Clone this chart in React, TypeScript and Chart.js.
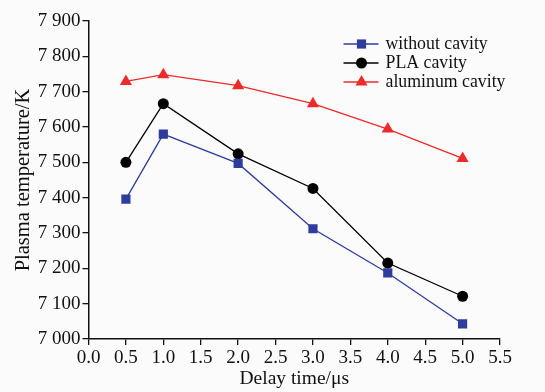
import React, { useEffect, useRef } from "react";
import { Chart, registerables } from "chart.js";

Chart.register(...registerables);

const delayTimes = [0.5, 1, 2, 3, 4, 5];
const withoutCavity = [7396, 7580, 7497, 7312, 7187, 7043];
const plaCavity = [7500, 7666, 7524, 7426, 7215, 7121];
const aluminumCavity = [7729, 7748, 7717, 7666, 7594, 7511];
const seriesLabels = ["without cavity", "PLA cavity", "aluminum cavity"];
const xTitle = "Delay time/\u03bcs";
const yTitle = "Plasma temperature/K";

const FONT = "'Liberation Serif', 'Times New Roman', serif";

function drawMarker(ctx: CanvasRenderingContext2D, style: string, r: number, x: number, y: number) {
  ctx.beginPath();
  if (style === "rect") {
    const s = Math.SQRT1_2 * r;
    ctx.rect(x - s, y - s, 2 * s, 2 * s);
  } else if (style === "triangle") {
    const rad = Math.PI / 180;
    let a = 0;
    ctx.moveTo(x + Math.sin(a) * r, y - Math.cos(a) * r);
    a += 120 * rad;
    ctx.lineTo(x + Math.sin(a) * r, y - Math.cos(a) * r);
    a += 120 * rad;
    ctx.lineTo(x + Math.sin(a) * r, y - Math.cos(a) * r);
    ctx.closePath();
  } else {
    ctx.arc(x, y, r, 0, Math.PI * 2);
  }
  ctx.fill();
}

const legendPlugin = {
  id: "customLegend",
  afterDraw(chart: any) {
    const ctx = chart.ctx;
    const area = chart.chartArea;
    const x0 = area.left + 255;
    const y0 = area.top + 23;
    const gap = 19;
    ctx.save();
    chart.data.datasets.forEach((ds: any, i: number) => {
      const y = y0 + i * gap;
      ctx.strokeStyle = ds.borderColor;
      ctx.lineWidth = 1.3;
      ctx.beginPath();
      ctx.moveTo(x0, y);
      ctx.lineTo(x0 + 35, y);
      ctx.stroke();
      ctx.fillStyle = ds.backgroundColor;
      drawMarker(ctx, ds.pointStyle, ds.pointRadius, x0 + 18, y);
      ctx.fillStyle = "#111";
      ctx.font = `17.8px ${FONT}`;
      ctx.textBaseline = "middle";
      ctx.textAlign = "left";
      ctx.fillText(ds.label, x0 + 42, y);
    });
    ctx.restore();
  },
};

const bgPlugin = {
  id: "bg",
  beforeDraw(chart: any) {
    const ctx = chart.ctx;
    ctx.save();
    ctx.fillStyle = "#fbfbfb";
    ctx.fillRect(0, 0, chart.width, chart.height);
    ctx.restore();
  },
};

export default function App() {
  const ref = useRef<HTMLCanvasElement>(null);
  useEffect(() => {
    document.body.style.margin = "0";
    const mk = (data: number[]) => data.map((v, i) => ({ x: delayTimes[i], y: v }));
    const chart = new Chart(ref.current!, {
      type: "line",
      data: {
        datasets: [
          {
            label: seriesLabels[0],
            data: mk(withoutCavity),
            borderColor: "#2e3d9c",
            backgroundColor: "#2e3d9c",
            pointStyle: "rect",
            pointRadius: 6.5,
            borderWidth: 1.3,
            pointBorderWidth: 0,
          },
          {
            label: seriesLabels[1],
            data: mk(plaCavity),
            borderColor: "#000000",
            backgroundColor: "#000000",
            pointStyle: "circle",
            pointRadius: 5.5,
            borderWidth: 1.3,
            pointBorderWidth: 0,
          },
          {
            label: seriesLabels[2],
            data: mk(aluminumCavity),
            borderColor: "#ec2a2a",
            backgroundColor: "#ec2a2a",
            pointStyle: "triangle",
            pointRadius: 7,
            borderWidth: 1.3,
            pointBorderWidth: 0,
          },
        ] as any,
      },
      options: {
        animation: false,
        responsive: false,
        layout: { padding: { left: 0, right: 45, top: 21, bottom: 0 } },
        plugins: {
          legend: { display: false },
          tooltip: { enabled: false },
        },
        scales: {
          x: {
            type: "linear",
            min: 0,
            max: 5.5,
            ticks: {
              stepSize: 0.5,
              color: "#111",
              font: { family: FONT, size: 19 },
              padding: 2,
              maxRotation: 0,
              autoSkip: false,
              callback: (v: any) => Number(v).toFixed(1),
            },
            grid: { display: true, drawOnChartArea: false, drawTicks: true, tickLength: 6, color: "#111", lineWidth: 1.3 },
            border: { display: true, color: "#111", width: 1.5 },
            title: { display: true, text: xTitle, color: "#111", font: { family: FONT, size: 19.5 }, padding: { top: 0, bottom: 1 } },
            afterFit: (s: any) => { s.height = 53; },
          },
          y: {
            type: "linear",
            min: 7000,
            max: 7900,
            ticks: {
              stepSize: 100,
              color: "#111",
              font: { family: FONT, size: 19 },
              padding: 2,
              callback: (v: any) => {
                const n = Math.round(Number(v));
                return `${Math.floor(n / 1000)} ${String(n % 1000).padStart(3, "0")}`;
              },
            },
            grid: { display: true, drawOnChartArea: false, drawTicks: true, tickLength: 6, color: "#111", lineWidth: 1.3 },
            border: { display: true, color: "#111", width: 1.5 },
            title: { display: true, text: yTitle, color: "#111", font: { family: FONT, size: 20.5 }, padding: { top: 11, bottom: 0 } },
            afterFit: (s: any) => { s.width = 88.5; },
          },
        },
      },
      plugins: [bgPlugin, legendPlugin],
    });
    return () => chart.destroy();
  }, []);
  return (
    <div style={{ width: 545, height: 392 }}>
      <canvas ref={ref} width={545} height={392} />
    </div>
  );
}
